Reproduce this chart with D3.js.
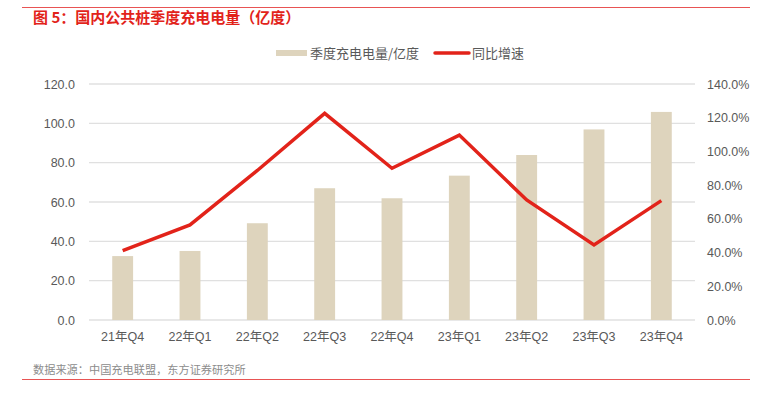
<!DOCTYPE html>
<html>
  <head>
    <meta charset="utf-8">
    <style>
      html, body {
        margin: 0px;
        padding: 0px;
        background: #fff;
      }
      svg {
        display: block;
      }
      text {
        font-family: "Liberation Sans", "Noto Sans CJK SC", sans-serif;
      }
    </style>
  </head>
  <body>
    <svg id="chart" width="771" height="393"></svg>
    <script src="https://cdnjs.cloudflare.com/ajax/libs/d3/7.8.5/d3.min.js"></script>
    <script>
      // data
      var quarters = ['21年Q4', '22年Q1', '22年Q2', '22年Q3', '22年Q4', '23年Q1', '23年Q2', '23年Q3', '23年Q4'];
      var charge = [32.5, 35.1, 49.2, 67.0, 61.9, 73.4, 83.9, 96.9, 105.8];   // 亿度
      var growth = [41.1, 56.4, 88.7, 122.6, 90.0, 109.7, 71.2, 44.5, 70.8];  // %
      var leftTicks = [0, 20, 40, 60, 80, 100, 120];
      var rightTicks = [0, 20, 40, 60, 80, 100, 120, 140];

      var svg = d3.select('#chart');
      var red = '#e2231a';
      var tan = '#ded4bd';
      var grey = '#595959';
      var cjk = '"Noto Sans CJK SC", sans-serif';

      // frame lines + title
      svg.append('line').attr('x1', 22).attr('x2', 750).attr('y1', 7.5).attr('y2', 7.5)
        .attr('stroke', '#e85454').attr('stroke-width', 1);
      svg.append('text').attr('x', 33).attr('y', 23).style('font-family', cjk)
        .attr('fill', red).attr('font-size', 15).attr('font-weight', 'bold')
        .text('图 5：国内公共桩季度充电电量（亿度）');
      svg.append('line').attr('x1', 22).attr('x2', 750).attr('y1', 379.5).attr('y2', 379.5)
        .attr('stroke', '#e85454').attr('stroke-width', 1);
      svg.append('text').attr('x', 33).attr('y', 374).style('font-family', cjk)
        .attr('fill', '#8c8c8c').attr('font-size', 11.2)
        .text('数据来源：中国充电联盟，东方证券研究所');

      var x = d3.scaleBand().domain(quarters).range([89, 695]).paddingInner(0.69).paddingOuter(0.345);
      var yL = d3.scaleLinear().domain([0, 120]).range([320, 84]);
      var yR = d3.scaleLinear().domain([0, 140]).range([320, 84]);

      // gridlines
      svg.append('g').selectAll('line').data(leftTicks).join('line')
        .attr('x1', 89).attr('x2', 695)
        .attr('y1', function(d) { return yL(d); }).attr('y2', function(d) { return yL(d); })
        .attr('stroke', '#e0e0e0').attr('stroke-width', 1.3);

      // axes
      var axL = svg.append('g').attr('transform', 'translate(89,0)')
        .call(d3.axisLeft(yL).tickValues(leftTicks).tickFormat(d3.format('.1f')).tickSize(0).tickPadding(14));
      var axR = svg.append('g').attr('transform', 'translate(695,0)')
        .call(d3.axisRight(yR).tickValues(rightTicks).tickFormat(function(d) { return d.toFixed(1) + '%'; }).tickSize(0).tickPadding(12));
      var axB = svg.append('g').attr('transform', 'translate(0,320)')
        .call(d3.axisBottom(x).tickSize(0).tickPadding(12));
      [axL, axR, axB].forEach(function(a) {
        a.select('.domain').remove();
        a.selectAll('text').attr('fill', grey).attr('font-size', 12.5)
          .style('font-family', '"Liberation Sans", "Noto Sans CJK SC", sans-serif');
      });

      // bars
      svg.append('g').selectAll('rect').data(charge).join('rect')
        .attr('x', function(d, i) { return x(quarters[i]); })
        .attr('width', x.bandwidth())
        .attr('y', function(d) { return yL(d); })
        .attr('height', function(d) { return yL(0) - yL(d); })
        .attr('fill', tan);

      // growth line
      var line = d3.line()
        .x(function(d, i) { return x(quarters[i]) + x.bandwidth() / 2; })
        .y(function(d) { return yR(d); });
      svg.append('path').datum(growth).attr('d', line)
        .attr('fill', 'none').attr('stroke', red).attr('stroke-width', 3.5)
        .attr('stroke-linejoin', 'miter');

      // legend
      var lg = svg.append('g').style('font-family', cjk);
      lg.append('rect').attr('x', 276).attr('y', 50).attr('width', 31).attr('height', 6).attr('fill', tan);
      lg.append('text').attr('x', 310).attr('y', 58).attr('fill', grey).attr('font-size', 13)
        .style('font-family', cjk).text('季度充电电量/亿度');
      lg.append('line').attr('x1', 435).attr('x2', 469).attr('y1', 53).attr('y2', 53)
        .attr('stroke', red).attr('stroke-width', 3.5).attr('stroke-linecap', 'round');
      lg.append('text').attr('x', 472).attr('y', 58).attr('fill', grey).attr('font-size', 13)
        .style('font-family', cjk).text('同比增速');
    </script>
  </body>
</html>
